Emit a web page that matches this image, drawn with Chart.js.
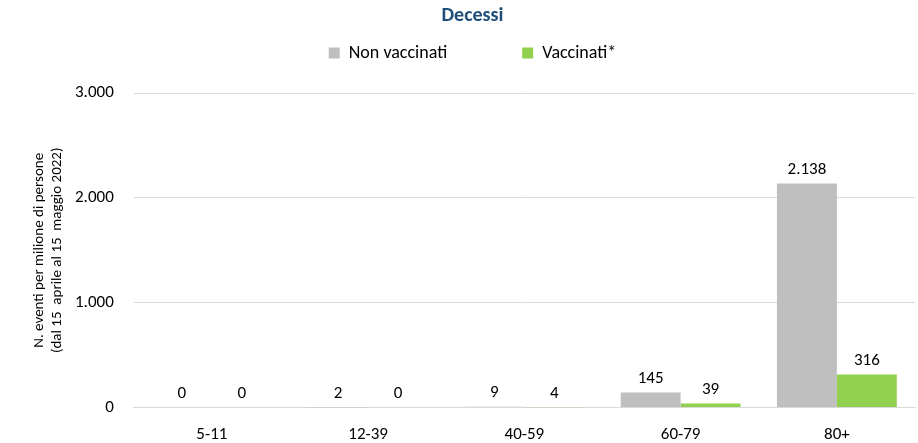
<!DOCTYPE html>
<html>
<head>
<meta charset="utf-8">
<script src="https://cdn.jsdelivr.net/npm/chart.js@4/dist/chart.umd.min.js"></script>
<style>
  html, body { margin: 0; padding: 0; background: #fff; }
  #wrap { width: 918px; height: 443px; }
</style>
</head>
<body>
<div id="wrap"><canvas id="chart" width="918" height="443"></canvas></div>
<script>
const categories = ['5-11', '12-39', '40-59', '60-79', '80+'];
const nonVaccinati = [0, 2, 9, 145, 2138];
const vaccinati = [0, 0, 4, 39, 316];
const seriesNames = ['Non vaccinati', 'Vaccinati*'];

const FONT = "Carlito, Calibri, Lato, 'Noto Sans', sans-serif";

// 2138 -> "2.138"
function fmt(v) {
  return String(Math.round(v)).replace(/\B(?=(\d{3})+(?!\d))/g, '.');
}

// values above each bar
const barLabels = {
  id: 'barLabels',
  afterDatasetsDraw(chart) {
    const ctx = chart.ctx;
    ctx.save();
    ctx.font = '17px ' + FONT;
    ctx.fillStyle = '#000';
    ctx.textAlign = 'center';
    ctx.textBaseline = 'bottom';
    chart.data.datasets.forEach((ds, i) => {
      chart.getDatasetMeta(i).data.forEach((bar, j) => {
        ctx.fillText(fmt(ds.data[j]), bar.x, bar.y - 5);
      });
    });
    ctx.restore();
  }
};

// extra blank space under the legend
const legendGap = {
  id: 'legendGap',
  afterInit(chart) {
    const legend = chart.legend;
    if (!legend) return;
    const fit = legend.fit;
    legend.fit = function() {
      fit.apply(this, arguments);
      this.height += 21;
    };
  }
};

new Chart(document.getElementById('chart'), {
  type: 'bar',
  data: {
    labels: categories,
    datasets: [
      { label: seriesNames[0], data: nonVaccinati, backgroundColor: '#BFBFBF' },
      { label: seriesNames[1], data: vaccinati, backgroundColor: '#92D050' }
    ]
  },
  plugins: [barLabels, legendGap],
  options: {
    responsive: false,
    animation: false,
    layout: { padding: { left: 30, right: 3, top: 0, bottom: -11 } },
    datasets: { bar: { categoryPercentage: 0.767, barPercentage: 1 } },
    plugins: {
      title: {
        display: true,
        text: 'Decessi',
        color: '#1F4E79',
        font: { family: FONT, size: 20, weight: 'bold' },
        padding: { top: 4, bottom: 4 }
      },
      legend: {
        labels: {
          boxWidth: 11,
          boxHeight: 11,
          padding: 12,
          color: '#000',
          font: { family: FONT, size: 18 },
          // wider gap between the two entries, as in the original
          generateLabels(chart) {
            const items = Chart.defaults.plugins.legend.labels.generateLabels(chart);
            items[0].text += '\u2003\u2003\u2003\u2002';
            return items;
          }
        }
      },
      tooltip: { enabled: false }
    },
    scales: {
      x: {
        grid: { display: false },
        border: { display: true, color: '#D9D9D9' },
        ticks: { color: '#000', font: { family: FONT, size: 17 }, padding: 9 }
      },
      y: {
        min: 0,
        max: 3000,
        ticks: {
          stepSize: 1000,
          color: '#000',
          font: { family: FONT, size: 17 },
          padding: 20,
          callback: v => fmt(v)
        },
        grid: { color: '#D9D9D9', drawTicks: false },
        border: { display: false },
        title: {
          display: true,
          text: ['N. eventi per milione di persone', '(dal 15  aprile al 15  maggio 2022)'],
          color: '#000',
          font: { family: FONT, size: 15 },
          padding: { top: 0, bottom: -11 }
        }
      }
    }
  }
});
</script>
</body>
</html>
